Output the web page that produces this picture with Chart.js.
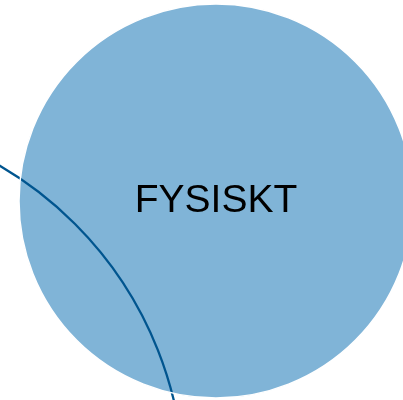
<!DOCTYPE html>
<html>
<head>
<meta charset="utf-8">
<script src="https://cdn.jsdelivr.net/npm/chart.js@4/dist/chart.umd.min.js"></script>
<style>
  html, body { margin: 0; padding: 0; background: #fff; }
  #wrap { width: 403px; height: 400px; }
</style>
</head>
<body>
<div id="wrap"><canvas id="vennChart"></canvas></div>
<script>
// Circles (x, y in px-like units, r = bubble radius)
const circleLabels = ['FYSISKT'];
const circleX = [216];
const circleY = [201];
const circleR = [197];

// Neighbouring circle, only its outline shows
const outlineX = [-188];
const outlineY = [487];
const outlineR = [372];

const fillColor = '#80b4d7';
const lineColor = '#00558f';

function toPoints(xs, ys, rs) {
    return xs.map((x, i) => ({ x: x, y: ys[i], r: rs[i] }));
}

// draws the circle names in the middle of each bubble
const centerLabels = {
    id: 'centerLabels',
    afterDatasetsDraw(chart) {
        const meta = chart.getDatasetMeta(2);
        const ctx = chart.ctx;
        ctx.save();
        ctx.font = '39px "Liberation Sans", Arial, sans-serif';
        ctx.fillStyle = '#000';
        ctx.textAlign = 'center';
        ctx.textBaseline = 'middle';
        meta.data.forEach((pt, i) => {
            ctx.fillText(circleLabels[i], pt.x, pt.y);
        });
        ctx.restore();
    }
};

new Chart(document.getElementById('vennChart'), {
    type: 'bubble',
    data: {
        datasets: [
            {
                // thin white rim over the line where it crosses the edge
                data: toPoints(circleX, circleY, circleR),
                backgroundColor: 'rgba(0,0,0,0)',
                borderColor: '#ffffff',
                borderWidth: 1.5,
                clip: false
            },
            {
                data: toPoints(outlineX, outlineY, outlineR),
                backgroundColor: 'rgba(0,0,0,0)',
                borderColor: lineColor,
                borderWidth: 2.3,
                clip: false
            },
            {
                data: toPoints(circleX, circleY, circleR),
                backgroundColor: fillColor,
                borderColor: fillColor,
                borderWidth: 0,
                clip: false
            }
        ]
    },
    options: {
        responsive: true,
        maintainAspectRatio: false,
        animation: false,
        events: [],
        // bubbles would otherwise pad the chart area by their radius
        layout: { padding: 0, autoPadding: false },
        plugins: {
            legend: { display: false },
            tooltip: { enabled: false }
        },
        scales: {
            x: { type: 'linear', min: 0, max: 403, display: false },
            y: { type: 'linear', min: 0, max: 400, reverse: true, display: false }
        }
    },
    plugins: [centerLabels]
});
</script>
</body>
</html>
